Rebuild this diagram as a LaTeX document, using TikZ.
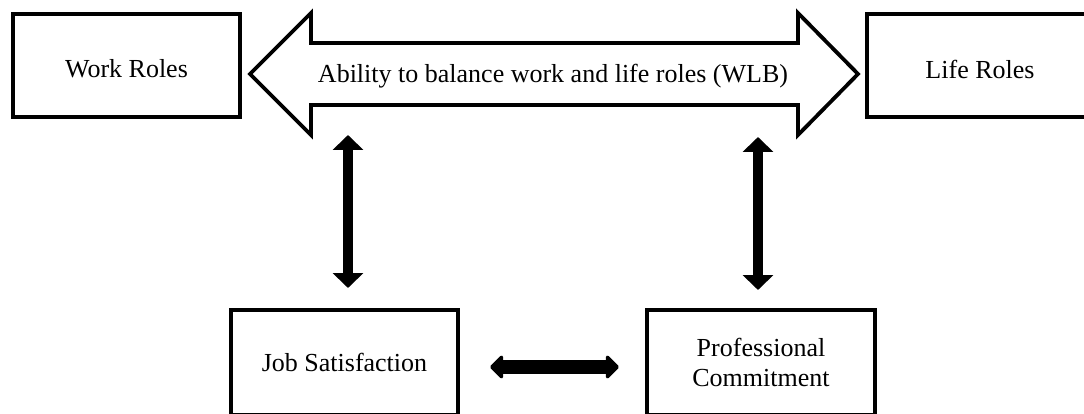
\documentclass[tikz,border=0pt]{standalone}
\usepackage{fontspec}
\setmainfont{Liberation Serif}
\usetikzlibrary{arrows.meta}
\begin{document}
\begin{tikzpicture}[x=1pt,y=-1pt,
  box/.style={draw=black,line width=4pt,fill=white,minimum width=227pt,minimum height=103pt,
    inner sep=0pt,align=center,font=\fontsize{26}{30}\selectfont},
  boxtext/.style={font=\fontsize{26}{30}\selectfont,yshift=-3pt},
  bigarrow/.style={draw=black,line width=3.8pt,line join=miter,fill=white},
  vlink/.style={line width=10pt,{Triangle[width=30pt,length=15pt]}-{Triangle[width=30pt,length=15pt]}},
  hlink/.style={line width=14pt,{Triangle[width=27pt,length=14pt,round]}-{Triangle[width=27pt,length=14pt,round]}}]
\useasboundingbox (0,0) rectangle (1084,414);
\fill[white] (0,0) rectangle (1084,414);
% big double arrow
\coordinate (lt) at (250,74);
\coordinate (rt) at (858,74);
\draw[bigarrow] (lt) -- (311,13) -- (311,43) -- (798,43) -- (798,13) -- (rt)
  -- (798,135) -- (798,105) -- (311,105) -- (311,135) -- cycle;
\node[font=\fontsize{26}{30}\selectfont] (wlb) at (553,76) {Ability to balance work and life roles (WLB)};
% boxes
\node[box,label={[boxtext]center:Work Roles}] (work) at (126.5,66) {};
\node[box,minimum width=226pt,label={[boxtext]center:Life Roles}] (life) at (980,66) {};
\node[box,minimum height=105pt] (job) at (344.5,362.5) {Job Satisfaction};
\node[box,minimum width=228pt,minimum height=105pt] (prof) at (761,362.5) {Professional\\Commitment};
% connectors
\coordinate (a1t) at (348,135);
\coordinate (a1b) at (348,288);
\coordinate (a2t) at (758,137);
\coordinate (a2b) at (758,290);
\draw[vlink] (a1b) -- (a1t);
\draw[vlink] (a2b) -- (a2t);
\draw[hlink] ([xshift=30pt]job.east |- 0,367) -- ([xshift=-26pt]prof.west |- 0,367);
\end{tikzpicture}
\end{document}
